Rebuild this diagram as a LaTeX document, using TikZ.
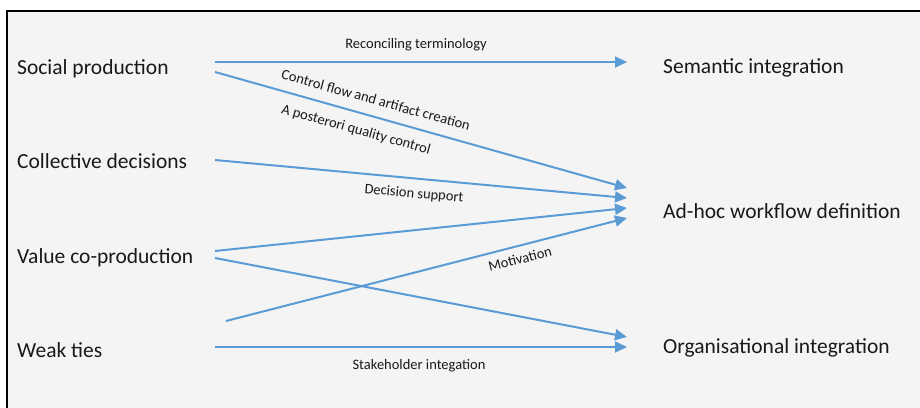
\documentclass[tikz,border=0pt]{standalone}
\usepackage{fontspec}
\setmainfont{Carlito}
\usetikzlibrary{arrows.meta}
\definecolor{flowblue}{HTML}{5B9BD5}
\definecolor{panelgray}{HTML}{F4F4F4}
\tikzset{
  concept/.style={anchor=base west, inner sep=0pt, font=\fontsize{21.5}{24}\selectfont, text=black!90},
  flow/.style={draw=flowblue, line width=2pt, -{Triangle[length=12pt,width=11pt]}},
  flowlabel/.style={inner sep=0pt, font=\fontsize{14.5}{16}\selectfont, text=black!90},
}
\begin{document}
\begin{tikzpicture}[x=1pt,y=-1pt]
  \useasboundingbox (0,0) rectangle (920,407);
  \fill[white] (0,0) rectangle (920,407);
  \draw[fill=panelgray, line width=1.2pt] (7,11) rectangle (930,420);

  % sources
  \node[concept] (sp) at (17,74) {Social production};
  \node[concept] (cd) at (17,168) {Collective decisions};
  \node[concept] (vc) at (17,263) {Value co-production};
  \node[concept] (wt) at (17,357) {Weak ties};

  % targets
  \node[concept] (si) at (663,73) {Semantic integration};
  \node[concept] (aw) at (663,218) {Ad-hoc workflow definition};
  \node[concept] (oi) at (663,353) {Organisational integration};

  % connector ends
  \coordinate (sp-a) at (215,62);
  \coordinate (sp-b) at (215,72);
  \coordinate (cd-a) at (215,160);
  \coordinate (vc-a) at (215,251);
  \coordinate (vc-b) at (215,258);
  \coordinate (wt-m) at (226,321);
  \coordinate (wt-a) at (215,347);
  \coordinate (si-in) at (627,62);
  \coordinate (aw-in1) at (627,188);
  \coordinate (aw-in2) at (627,198);
  \coordinate (aw-in3) at (627,208);
  \coordinate (aw-in4) at (627,218);
  \coordinate (oi-in1) at (627,337);
  \coordinate (oi-in2) at (627,347);

  \draw[flow] (sp-a) -- (si-in);
  \draw[flow] (sp-b) -- (aw-in1);
  \draw[flow] (cd-a) -- (aw-in2);
  \draw[flow] (vc-a) -- (aw-in3);
  \draw[flow] (wt-m) -- (aw-in4);
  \draw[flow] (vc-b) -- (oi-in1);
  \draw[flow] (wt-a) -- (oi-in2);

  % labels
  \node[flowlabel] (l1) at (416,45) {Reconciling terminology};
  \node[flowlabel, rotate=-15.5] (l2) at (376,100) {Control flow and artifact creation};
  \node[flowlabel, rotate=-15.5] (l3) at (356,130) {A posterori quality control};
  \node[flowlabel, rotate=-5] (l4) at (414,194) {Decision support};
  \node[flowlabel, rotate=14.2] (l5) at (520,259) {Motivation};
  \node[flowlabel] (l6) at (419,366) {Stakeholder integation};
\end{tikzpicture}
\end{document}
